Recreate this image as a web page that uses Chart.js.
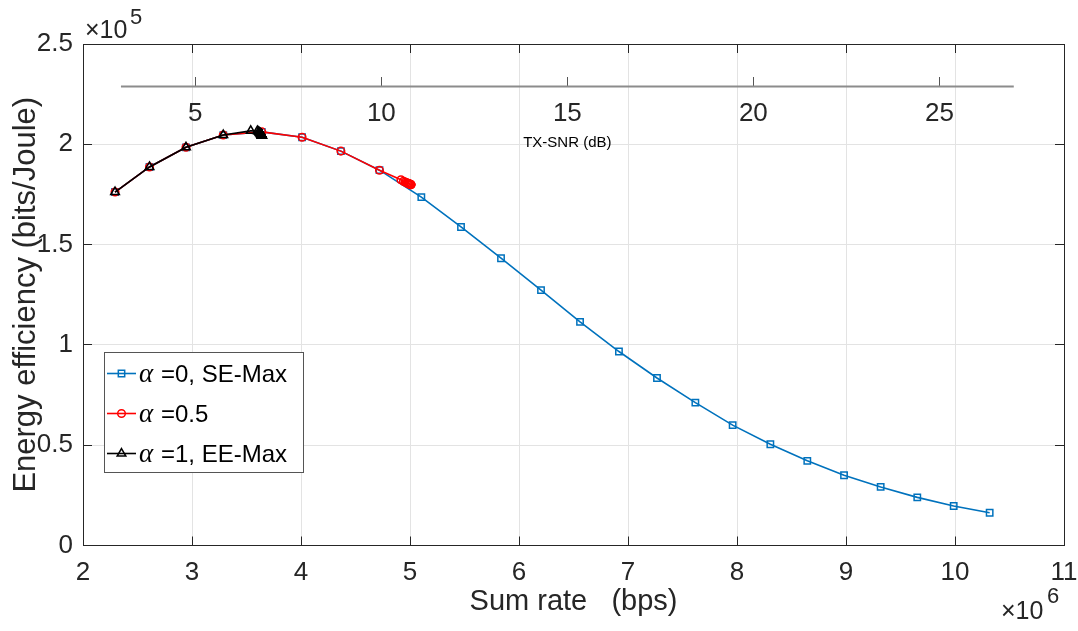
<!DOCTYPE html>
<html>
<head>
<meta charset="utf-8">
<script src="https://cdn.jsdelivr.net/npm/chart.js@4.4.1/dist/chart.umd.min.js"></script>
<style>
  html, body { margin: 0; padding: 0; background: #fff; }
  canvas { display: block; }
</style>
</head>
<body>
<canvas id="c" width="1078" height="631"></canvas>
<script>
// values: rate in 1e6 bps, energy efficiency in 1e5 bits/Joule
const rateSE = [2.294, 2.610, 2.945, 3.287, 3.640, 4.010, 4.366, 4.720, 5.104, 5.468, 5.835, 6.202,
                6.560, 6.917, 7.266, 7.618, 7.960, 8.306, 8.645, 8.982, 9.318, 9.654, 9.988, 10.318];
const eeSE   = [1.762, 1.887, 1.985, 2.046, 2.062, 2.035, 1.966, 1.871, 1.737, 1.588, 1.432, 1.273,
                1.115, 0.967, 0.835, 0.712, 0.600, 0.505, 0.422, 0.350, 0.292, 0.240, 0.197, 0.163];

const rateHalf = [2.294, 2.610, 2.945, 3.287, 3.640, 4.010, 4.366, 4.720, 4.917, 4.940, 4.955, 4.966,
                  4.975, 4.982, 4.988, 4.993, 4.997, 5.000, 5.003, 5.005, 5.007, 5.008, 5.009, 5.010];
const eeHalf   = [1.762, 1.887, 1.985, 2.046, 2.062, 2.035, 1.966, 1.871, 1.823, 1.816, 1.812, 1.809,
                  1.807, 1.805, 1.804, 1.803, 1.802, 1.801, 1.800, 1.800, 1.799, 1.799, 1.799, 1.799];

const rateEE = [2.294, 2.610, 2.945, 3.287, 3.539, 3.600, 3.612, 3.620, 3.626, 3.630, 3.633, 3.635,
                3.637, 3.638, 3.639, 3.640, 3.640, 3.640, 3.641, 3.641, 3.641, 3.641, 3.641, 3.641];
const eeEE   = [1.762, 1.887, 1.985, 2.046, 2.067, 2.066, 2.062, 2.058, 2.055, 2.052, 2.050, 2.049,
                2.048, 2.047, 2.047, 2.046, 2.046, 2.046, 2.045, 2.045, 2.045, 2.045, 2.045, 2.045];

const rateTicks = [2, 3, 4, 5, 6, 7, 8, 9, 10, 11];
const eeTicks = [0, 0.5, 1, 1.5, 2, 2.5];
const snrTicks = [5, 10, 15, 20, 25];
const snrRange = [3, 27];      // extent of the drawn TX-SNR axis line
const snrAxisAt = 2.29;        // EE value where the TX-SNR axis sits
const legendNames = ['=0, SE-Max', '=0.5', '=1, EE-Max'];

const FONT = '"Liberation Sans", Arial, Helvetica, sans-serif';
const INK = '#262626';

const pts = (xs, ys) => xs.map((x, i) => ({ x: x, y: ys[i] }));
const setTicks = arr => s => { s.ticks = arr.map(v => ({ value: v })); };
const noPad = s => { s.paddingLeft = 0; s.paddingRight = 0; s.paddingTop = 0; s.paddingBottom = 0; };

// TX-SNR line, multipliers and the legend
const overlay = {
  id: 'overlay',
  afterDraw(chart) {
    const { ctx, chartArea } = chart;
    const snr = chart.scales.snr, y = chart.scales.y;
    const yl = Math.round(y.getPixelForValue(snrAxisAt)) + 0.5;
    const xa = snr.getPixelForValue(snrRange[0]);
    const xb = snr.getPixelForValue(snrRange[1]);
    ctx.save();
    ctx.strokeStyle = '#8c8c8c';
    ctx.lineWidth = 2;
    ctx.beginPath(); ctx.moveTo(xa, yl); ctx.lineTo(xb, yl); ctx.stroke();

    ctx.fillStyle = '#000';
    ctx.font = '15px ' + FONT;
    ctx.textAlign = 'center';
    ctx.textBaseline = 'middle';
    ctx.fillText('TX-SNR (dB)', (xa + xb) / 2, yl + 56);

    // x10^5 and x10^6
    ctx.fillStyle = INK;
    ctx.textAlign = 'left';
    ctx.textBaseline = 'alphabetic';
    ctx.font = '25px ' + FONT;
    ctx.fillText('\u00d710', chartArea.left + 2, 38);
    ctx.font = '22px ' + FONT;
    ctx.fillText('5', chartArea.left + 47, 24);
    ctx.font = '25px ' + FONT;
    ctx.fillText('\u00d710', chartArea.right - 63, 619);
    ctx.font = '22px ' + FONT;
    ctx.fillText('6', chartArea.right - 17, 603);

    // legend
    const bx = 104.5, by = 352.5, bw = 199, bh = 120;
    ctx.fillStyle = '#fff';
    ctx.fillRect(bx, by, bw, bh);
    ctx.strokeStyle = '#555';
    ctx.lineWidth = 1;
    ctx.strokeRect(bx, by, bw, bh);
    chart.data.datasets.forEach((ds, i) => {
      const ry = 373.5 + 40 * i;
      ctx.strokeStyle = ds.borderColor;
      ctx.lineWidth = ds.borderWidth;
      ctx.beginPath(); ctx.moveTo(107, ry); ctx.lineTo(136, ry); ctx.stroke();
      ctx.fillStyle = 'rgba(0,0,0,0)';
      ctx.strokeStyle = ds.pointBorderColor;
      ctx.lineWidth = ds.pointBorderWidth;
      Chart.helpers.drawPoint(ctx, { pointStyle: ds.pointStyle, radius: ds.pointRadius, borderWidth: ds.pointBorderWidth, rotation: 0 }, 121.5, ry);
      ctx.fillStyle = '#000';
      ctx.textBaseline = 'middle';
      ctx.font = 'italic 27px "Liberation Serif", "DejaVu Serif", serif';
      ctx.fillText('\u03b1', 139, ry + 1);
      ctx.font = '24px ' + FONT;
      ctx.fillText(legendNames[i], 161, ry + 2);
    });
    ctx.restore();
  }
};

const mirror = (axis, pos, min, max, ticks, size) => ({
  type: 'linear', axis: axis, position: pos, min: min, max: max,
  afterBuildTicks: setTicks(ticks),
  afterFit: s => { noPad(s); if (axis === 'x') s.height = size; else s.width = size; },
  grid: { drawOnChartArea: false, tickLength: -9, tickColor: INK },
  border: { color: INK, width: 1 },
  ticks: { display: false }
});

new Chart(document.getElementById('c'), {
  type: 'scatter',
  data: {
    datasets: [
      { label: legendNames[0], data: pts(rateSE, eeSE), showLine: true, order: 3,
        borderColor: '#0072BD', borderWidth: 1.6, pointStyle: 'rect', pointRadius: 4.5,
        pointBorderColor: '#0072BD', pointBorderWidth: 1.5, pointBackgroundColor: 'rgba(0,0,0,0)' },
      { label: legendNames[1], data: pts(rateHalf, eeHalf), showLine: true, order: 2,
        borderColor: '#FF0000', borderWidth: 1.6, pointStyle: 'circle', pointRadius: 3.8,
        pointBorderColor: '#FF0000', pointBorderWidth: 1.5, pointBackgroundColor: 'rgba(0,0,0,0)' },
      { label: legendNames[2], data: pts(rateEE, eeEE), showLine: true, order: 1,
        borderColor: '#000000', borderWidth: 1.6, pointStyle: 'triangle', pointRadius: 5,
        pointBorderColor: '#000000', pointBorderWidth: 1.5, pointBackgroundColor: 'rgba(0,0,0,0)' }
    ]
  },
  options: {
    responsive: false,
    animation: false,
    events: [],
    layout: { padding: 0 },
    plugins: { legend: { display: false }, tooltip: { enabled: false } },
    scales: {
      x: {
        type: 'linear', position: 'bottom', min: 2, max: 11,
        afterBuildTicks: setTicks(rateTicks),
        afterFit: s => { noPad(s); s.height = 85.5; },
        grid: { color: '#e3e3e3', tickColor: INK, tickLength: -9 },
        border: { color: INK, width: 1 },
        ticks: { font: { family: FONT, size: 26 }, color: INK, padding: 21, maxRotation: 0, autoSkip: false,
                 callback: v => String(v) },
        title: { display: true, text: 'Sum rate   (bps)', font: { family: FONT, size: 29 }, color: INK,
                 padding: { top: 0, bottom: 12 } }
      },
      y: {
        type: 'linear', position: 'left', min: 0, max: 2.5,
        afterBuildTicks: setTicks(eeTicks),
        afterFit: s => { noPad(s); s.width = 83; },
        grid: { color: '#e3e3e3', tickColor: INK, tickLength: -9 },
        border: { color: INK, width: 1 },
        ticks: { font: { family: FONT, size: 26 }, color: INK, padding: 19, callback: v => String(v) },
        title: { display: true, text: 'Energy efficiency (bits/Joule)', font: { family: FONT, size: 31 }, color: INK,
                 padding: { top: 8, bottom: 0 } }
      },
      x2: mirror('x', 'top', 2, 11, rateTicks, 44),
      y2: mirror('y', 'right', 0, 2.5, eeTicks, 14),
      snr: {
        type: 'linear', axis: 'x', position: { y: snrAxisAt }, min: 1.98, max: 28.35,
        afterBuildTicks: setTicks(snrTicks),
        afterFit: noPad,
        grid: { drawOnChartArea: false, tickLength: -9, tickColor: '#555' },
        border: { display: false },
        ticks: { font: { family: FONT, size: 26 }, color: INK, padding: 21, maxRotation: 0, autoSkip: false,
                 callback: v => String(v) }
      }
    }
  },
  plugins: [overlay]
});
</script>
</body>
</html>
